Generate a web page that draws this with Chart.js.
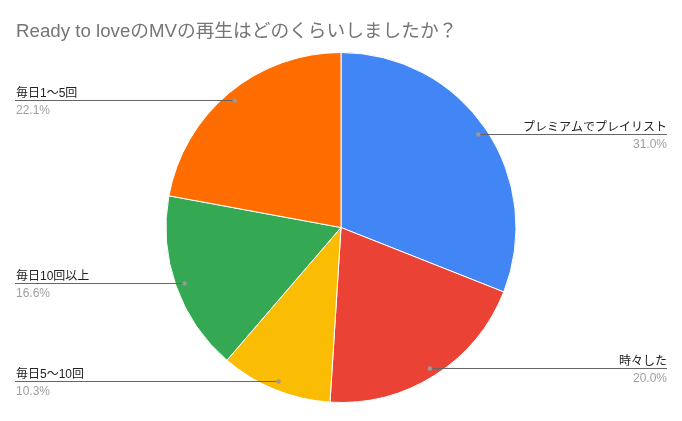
<!DOCTYPE html>
<html>
<head>
<meta charset="utf-8">
<script src="https://cdn.jsdelivr.net/npm/chart.js@4"></script>
<style>
html,body{margin:0;padding:0;background:#fff;}
#wrap{width:682px;height:421px;position:relative;}
</style>
</head>
<body>
<div id="wrap"><canvas id="c" width="682" height="421"></canvas></div>
<script>
const titleText = 'Ready to loveのMVの再生はどのくらいしましたか？';
const categories = ['プレミアムでプレイリスト', '時々した', '毎日5〜10回', '毎日10回以上', '毎日1〜5回'];
const values = [31.0, 20.0, 10.3, 16.6, 22.1];
const colors = ['#4285F4', '#EA4335', '#FBBC04', '#34A853', '#FF6D01'];

const FONT = "Arial, 'Liberation Sans', 'Noto Sans CJK JP', sans-serif";

const leaderLabels = {
  id: 'leaderLabels',
  afterDatasetsDraw(chart) {
    const ctx = chart.ctx;
    const meta = chart.getDatasetMeta(0);
    const total = values.reduce((a, b) => a + b, 0);
    const leftX = 15, rightX = 667;
    ctx.save();
    meta.data.forEach((arc, i) => {
      const p = arc.getProps(['x', 'y', 'startAngle', 'endAngle', 'outerRadius'], true);
      const mid = (p.startAngle + p.endAngle) / 2;
      const r = p.outerRadius * 0.948;
      const dx = p.x + Math.cos(mid) * r;
      const dy = p.y + Math.sin(mid) * r;
      const right = Math.cos(mid) >= 0;
      const ly = Math.round(dy) + 0.5;
      ctx.strokeStyle = '#666666';
      ctx.lineWidth = 1;
      ctx.beginPath();
      if (right) { ctx.moveTo(dx, ly); ctx.lineTo(rightX, ly); }
      else { ctx.moveTo(leftX, ly); ctx.lineTo(dx, ly); }
      ctx.stroke();
      ctx.fillStyle = '#999999';
      ctx.beginPath();
      ctx.arc(dx, ly, 2.2, 0, Math.PI * 2);
      ctx.fill();
      const pct = (values[i] / total * 100).toFixed(1) + '%';
      ctx.textAlign = right ? 'right' : 'left';
      ctx.textBaseline = 'alphabetic';
      const tx = right ? rightX : leftX + 1;
      ctx.font = '12px ' + FONT;
      ctx.fillStyle = '#222222';
      ctx.fillText(categories[i], tx, ly - 4);
      ctx.fillStyle = '#9e9e9e';
      ctx.fillText(pct, tx, ly + 13);
    });
    ctx.restore();
  }
};

new Chart(document.getElementById('c'), {
  type: 'pie',
  data: {
    labels: categories,
    datasets: [{
      data: values,
      backgroundColor: colors,
      borderColor: '#ffffff',
      borderWidth: 1
    }]
  },
  options: {
    responsive: false,
    animation: false,
    devicePixelRatio: 1,
    layout: { padding: { top: 0, bottom: 18, left: 16, right: 16 } },
    plugins: {
      legend: { display: false },
      tooltip: { enabled: false },
      title: {
        display: true,
        text: titleText,
        align: 'start',
        color: '#757575',
        font: { size: 18.7, family: FONT, weight: 'normal' },
        padding: { top: 21, bottom: 8.56 }
      }
    }
  },
  plugins: [leaderLabels]
});
</script>
</body>
</html>
